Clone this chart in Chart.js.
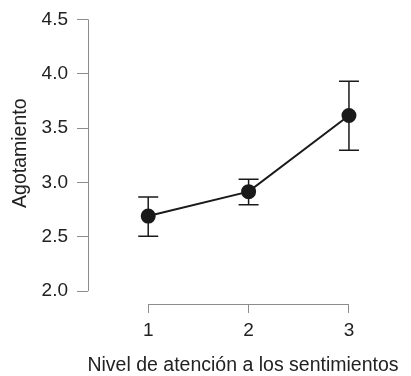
<!DOCTYPE html>
<html lang="es">
<head>
    <meta charset="UTF-8">
    <title>Agotamiento</title>
    <script src="https://cdn.jsdelivr.net/npm/chart.js"></script>
    <style>
        body { margin: 0; padding: 0; background: #fff; }
        canvas { display: block; }
    </style>
</head>
<body>
    <canvas id="chart" width="411" height="376"></canvas>
    <script>
        // Datos
        const niveles = [1, 2, 3];
        const xLabels = ['1', '2', '3'];
        const medias = [2.69, 2.915, 3.615];
        const inferior = [2.505, 2.795, 3.295];
        const superior = [2.865, 3.03, 3.93];
        const yTicks = [2.0, 2.5, 3.0, 3.5, 4.0, 4.5];
        const xTitulo = 'Nivel de atención a los sentimientos';
        const yTitulo = 'Agotamiento';

        const axisColor = '#8c8c8c';
        const textColor = '#222';
        const familia = '"Liberation Sans", Arial, sans-serif';

        // Ejes separados, barras de error y títulos
        const ejesPlugin = {
            id: 'ejes',
            afterDraw(chart) {
                const { ctx, chartArea, scales } = chart;
                const x = scales.x, y = scales.y;
                ctx.save();
                ctx.strokeStyle = axisColor;
                ctx.lineWidth = 1;
                ctx.beginPath();
                ctx.moveTo(chartArea.left + 0.5, y.getPixelForValue(yTicks[0]));
                ctx.lineTo(chartArea.left + 0.5, y.getPixelForValue(yTicks[yTicks.length - 1]));
                ctx.moveTo(x.getPixelForValue(niveles[0]), chartArea.bottom + 0.5);
                ctx.lineTo(x.getPixelForValue(niveles[niveles.length - 1]), chartArea.bottom + 0.5);
                ctx.stroke();

                ctx.strokeStyle = '#1a1a1a';
                ctx.lineWidth = 1.5;
                niveles.forEach((n, i) => {
                    const px = x.getPixelForValue(n);
                    const y1 = y.getPixelForValue(inferior[i]);
                    const y2 = y.getPixelForValue(superior[i]);
                    ctx.beginPath();
                    ctx.moveTo(px, y1); ctx.lineTo(px, y2);
                    ctx.moveTo(px - 10, y1); ctx.lineTo(px + 10, y1);
                    ctx.moveTo(px - 10, y2); ctx.lineTo(px + 10, y2);
                    ctx.stroke();
                });

                // títulos de los ejes (sin maxWidth para que no se compriman)
                ctx.fillStyle = textColor;
                ctx.font = '19.5px ' + familia;
                ctx.textAlign = 'center';
                ctx.textBaseline = 'alphabetic';
                ctx.fillText(xTitulo, 243, 371);
                ctx.translate(21, (y.getPixelForValue(yTicks[0]) + y.getPixelForValue(yTicks[yTicks.length - 1])) / 2 - 2);
                ctx.rotate(-Math.PI / 2);
                ctx.textBaseline = 'middle';
                ctx.fillText(yTitulo, 0, 0);
                ctx.restore();
            }
        };

        const ctx = document.getElementById('chart').getContext('2d');
        new Chart(ctx, {
            type: 'line',
            data: {
                datasets: [{
                    data: niveles.map((n, i) => ({ x: n, y: medias[i] })),
                    borderColor: '#1a1a1a',
                    backgroundColor: '#1a1a1a',
                    borderWidth: 2,
                    pointRadius: 6.5,
                    pointHoverRadius: 6.5,
                    clip: false
                }]
            },
            options: {
                responsive: false,
                animation: false,
                layout: { padding: { top: 7, right: 52, left: 0, bottom: 0 } },
                plugins: { legend: { display: false }, tooltip: { enabled: false } },
                scales: {
                    x: {
                        type: 'linear',
                        min: 0.4,
                        max: 3.1,
                        afterBuildTicks: s => { s.ticks = niveles.map(v => ({ value: v })); },
                        afterFit: s => { s.height = 72; s.paddingLeft = 0; s.paddingRight = 0; },
                        border: { display: false },
                        grid: { drawOnChartArea: false, drawTicks: true, tickLength: 9, color: axisColor },
                        ticks: {
                            color: textColor, font: { family: familia, size: 19 }, padding: 6, maxRotation: 0,
                            callback: (v) => xLabels[niveles.indexOf(v)]
                        }
                    },
                    y: {
                        min: 1.881,
                        max: 4.6,
                        afterBuildTicks: s => { s.ticks = yTicks.map(v => ({ value: v })); },
                        afterFit: s => { s.width = 88; s.paddingTop = 0; s.paddingBottom = 0; },
                        border: { display: false },
                        grid: { drawOnChartArea: false, drawTicks: true, tickLength: 11, color: axisColor },
                        ticks: {
                            color: textColor, font: { family: familia, size: 19 }, padding: 9,
                            callback: v => v.toFixed(1)
                        }
                    }
                }
            },
            plugins: [ejesPlugin]
        });
    </script>
</body>
</html>
